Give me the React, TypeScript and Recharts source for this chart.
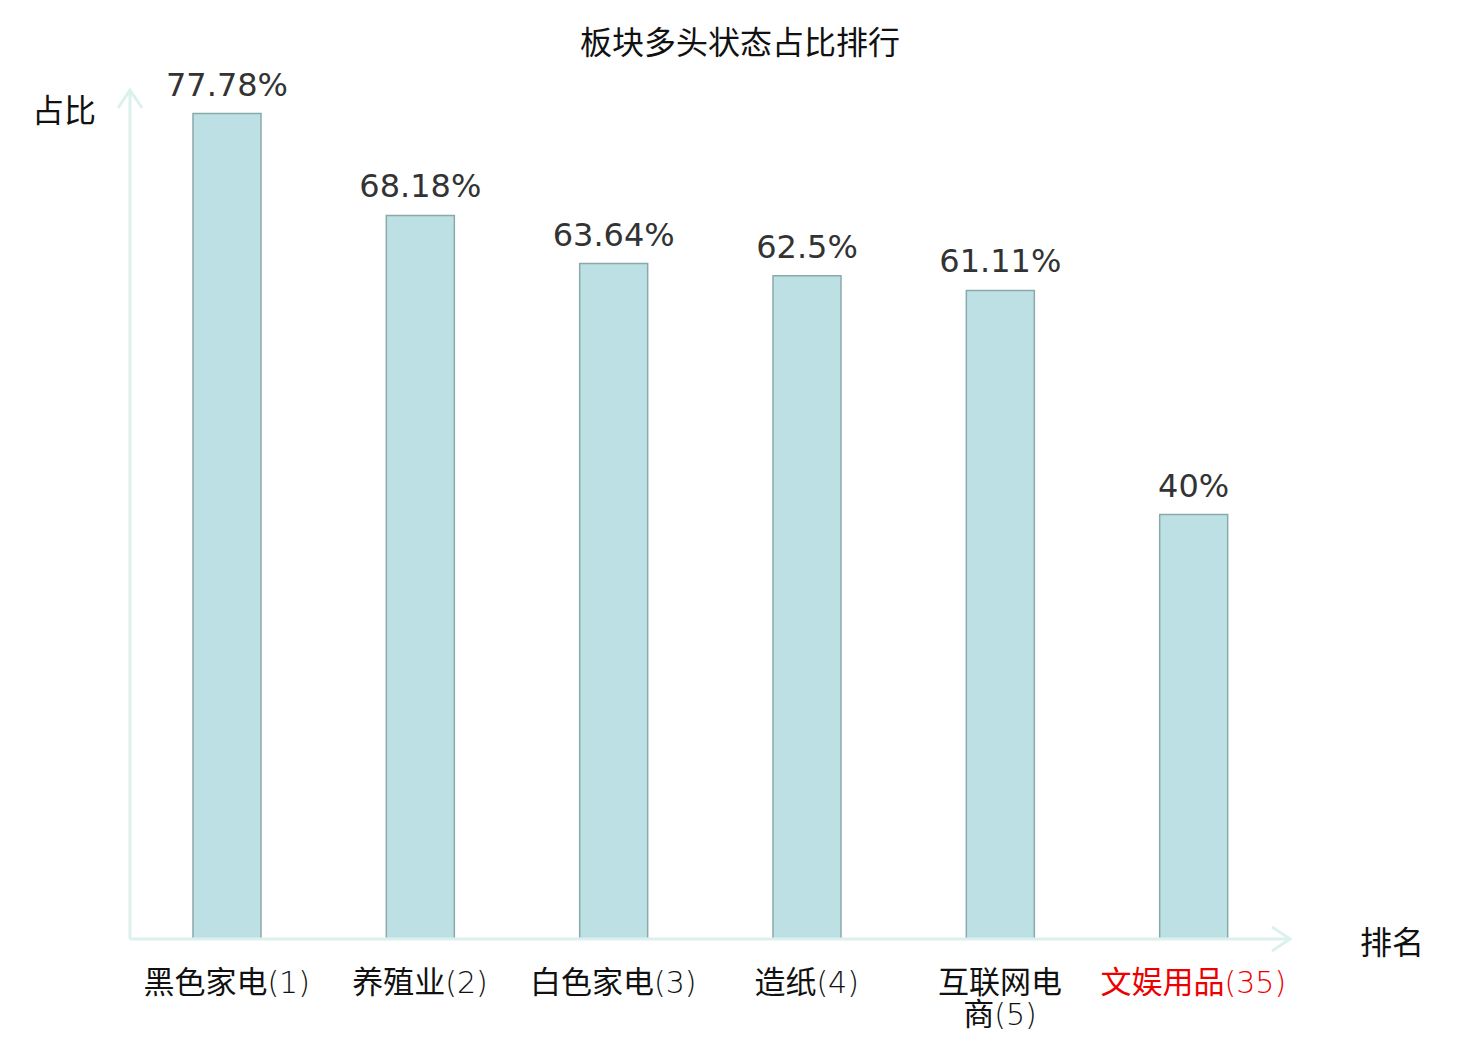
import { BarChart, Bar, XAxis, YAxis, LabelList } from 'recharts';

const categories = ['黑色家电(1)', '养殖业(2)', '白色家电(3)', '造纸(4)', '互联网电商(5)', '文娱用品(35)'];
const ratios = [77.78, 68.18, 63.64, 62.5, 61.11, 40];
const highlightCategory = '文娱用品(35)';

const data = categories.map((name, i) => ({ name, value: ratios[i] }));

const AXIS_COLOR = '#dcf1ee';
const CJK_FONT = '"Noto Sans CJK SC", "Noto Sans", sans-serif';
const LATIN_FONT = '"DejaVu Sans", sans-serif';
const isCJK = (ch: string) => /[\u4e00-\u9fff]/.test(ch);

// break only before a CJK char; brackets/digits stick to the char before them
const wrapLabel = (text: string, maxWidth: number, fontSize: number) => {
    const tokens: string[] = [];
    for (const ch of text) {
        if (isCJK(ch) || tokens.length === 0) tokens.push(ch);
        else tokens[tokens.length - 1] += ch;
    }
    const width = (s: string) => [...s].reduce((w, ch) => w + (isCJK(ch) ? fontSize : fontSize * 0.5), 0);
    const lines: string[] = [];
    let cur = '';
    for (const t of tokens) {
        if (cur && width(cur + t) > maxWidth) {
            lines.push(cur);
            cur = t;
        } else {
            cur += t;
        }
    }
    if (cur) lines.push(cur);
    return lines;
};

// split a line into CJK / latin runs so each gets its own font
const splitRuns = (s: string) => {
    const runs: { text: string; cjk: boolean }[] = [];
    for (const ch of s) {
        const c = isCJK(ch);
        const last = runs[runs.length - 1];
        if (last && last.cjk === c) last.text += ch;
        else runs.push({ text: ch, cjk: c });
    }
    return runs;
};

const XTick = ({ x, y, payload }: any) => {
    const lines = wrapLabel(String(payload.value), 192, 31);
    const color = payload.value === highlightCategory ? '#ee0000' : '#111';
    return (
        <text x={x} y={y + 54} textAnchor="middle" fill={color} fontSize={31} fontFamily={CJK_FONT}>
            {lines.map((l, i) =>
                splitRuns(l).map((r, j) => (
                    <tspan
                        key={`${i}-${j}`}
                        x={j === 0 ? x : undefined}
                        dy={j === 0 && i > 0 ? 32 : undefined}
                        fontFamily={r.cjk ? CJK_FONT : LATIN_FONT}
                        fontWeight={r.cjk ? 400 : 300}
                        fontSize={r.cjk ? 31 : 30}
                    >
                        {r.text}
                    </tspan>
                ))
            )}
        </text>
    );
};

export default function App() {
    return (
        <div style={{ position: 'absolute', left: 0, top: 0, width: 1480, height: 1040, background: '#fff' }}>
            <svg width={0} height={0} style={{ position: 'absolute' }}>
                <defs>
                    <marker id="axisArrow" markerUnits="userSpaceOnUse" markerWidth={26} markerHeight={30}
                        viewBox="0 0 26 30" refX={21} refY={14} orient="auto-start-reverse">
                        <path d="M3,2 L21,14 L3,26" fill="none" stroke={AXIS_COLOR} strokeWidth={3} />
                    </marker>
                </defs>
            </svg>
            <div style={{
                position: 'absolute', top: 20, left: 0, width: 1480, textAlign: 'center',
                fontSize: 32, lineHeight: '40px', fontFamily: CJK_FONT, color: '#111'
            }}>
                板块多头状态占比排行
            </div>
            <div style={{ position: 'absolute', top: 88, left: 32, fontSize: 32, lineHeight: '40px', fontFamily: CJK_FONT, color: '#111' }}>
                占比
            </div>
            <div style={{ position: 'absolute', top: 920, left: 1360, fontSize: 32, lineHeight: '40px', fontFamily: CJK_FONT, color: '#111' }}>
                排名
            </div>
            <BarChart
                width={1480}
                height={1040}
                data={data}
                margin={{ top: 90, right: 190, left: 129, bottom: 0 }}
            >
                <XAxis
                    dataKey="name"
                    interval={0}
                    tickLine={false}
                    tickSize={0}
                    tickMargin={0}
                    axisLine={{ stroke: AXIS_COLOR, strokeWidth: 3, markerEnd: 'url(#axisArrow)' } as any}
                    tick={<XTick />}
                    height={101}
                />
                <YAxis
                    width={1}
                    domain={[0, 80]}
                    tick={false}
                    tickLine={false}
                    axisLine={{ stroke: AXIS_COLOR, strokeWidth: 3, markerStart: 'url(#axisArrow)' } as any}
                />
                <Bar
                    dataKey="value"
                    barSize={68}
                    fill="#bce0e3"
                    stroke="#8aa9aa"
                    strokeWidth={1.5}
                    isAnimationActive={false}
                >
                    <LabelList
                        dataKey="value"
                        position="top"
                        offset={18}
                        formatter={(v: any) => `${v}%`}
                        fill="#333"
                        fontSize={32}
                        fontFamily='"DejaVu Sans", sans-serif'
                    />
                </Bar>
            </BarChart>
        </div>
    );
}
